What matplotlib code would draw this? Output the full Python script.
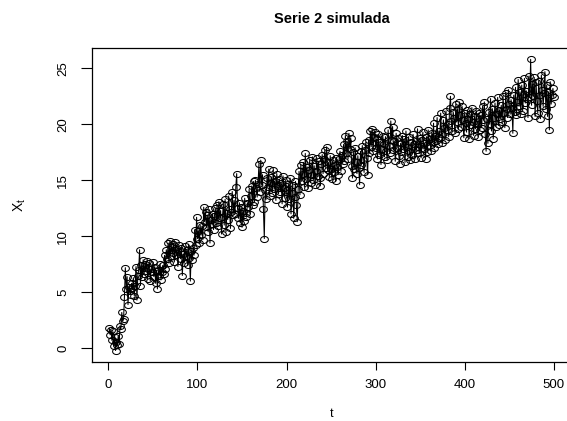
import numpy as np
import matplotlib
matplotlib.use("Agg")
import matplotlib.pyplot as plt
from matplotlib.path import Path

plt.rcParams['font.family'] = ['Liberation Sans', 'DejaVu Sans']

# serie simulada, 500 observaciones (t = 1..500)
x_t = [
    1.8, 1.2, 1.6, 0.7, 1.5, 0.2, 1.0, -0.2, 0.6, 0.3,
    1.1, 0.4, 2.0, 1.7, 3.2, 2.4, 2.6, 4.6, 7.2, 5.3,
    6.4, 3.9, 5.5, 5.1, 4.8, 5.8, 5.4, 6.3, 4.7, 5.6,
    7.3, 4.3, 6.5, 7.0, 8.8, 5.6, 7.4, 6.4, 7.9, 6.6,
    7.5, 6.9, 7.8, 6.2, 7.2, 7.6, 6.0, 7.1, 6.8, 7.7,
    6.4, 7.3, 5.8, 6.9, 5.3, 7.0, 6.5, 7.5, 6.1, 6.8,
    7.4, 6.6, 8.3, 7.1, 8.8, 8.0, 9.4, 7.6, 9.6, 8.2,
    9.1, 8.5, 9.3, 7.7, 9.5, 8.3, 8.9, 7.3, 9.2, 8.6,
    8.0, 9.0, 6.5, 8.4, 7.6, 9.1, 8.2, 8.8, 7.4, 9.3,
    8.1, 6.0, 8.7, 7.9, 9.0, 8.3, 10.6, 9.2, 11.7, 9.8,
    10.5, 9.4, 11.0, 10.1, 10.9, 9.7, 12.6, 11.3, 12.2, 10.8,
    11.9, 10.4, 12.4, 9.4, 11.5, 11.1, 12.0, 10.6, 11.8, 12.5,
    11.2, 12.8, 10.9, 13.1, 11.6, 12.3, 10.2, 11.7, 12.9, 11.0,
    13.3, 10.4, 12.1, 11.5, 13.6, 12.4, 10.7, 12.2, 14.0, 11.9,
    13.2, 12.0, 14.4, 15.6, 12.5, 11.6, 13.0, 11.2, 12.6, 10.8,
    12.3, 11.4, 13.4, 12.1, 11.7, 13.0, 12.6, 14.2, 12.0, 13.6,
    14.5, 12.8, 14.9, 13.1, 15.0, 14.3, 13.5, 14.7, 16.5, 14.0,
    16.8, 14.6, 15.5, 12.4, 9.8, 14.1, 13.3, 15.2, 14.4, 16.0,
    13.6, 14.8, 15.3, 13.9, 15.9, 14.2, 14.9, 13.2, 15.6, 14.5,
    13.8, 15.1, 14.0, 14.8, 12.9, 15.4, 14.3, 13.4, 15.0, 14.1,
    12.6, 14.7, 13.3, 15.2, 12.0, 13.9, 14.6, 11.6, 13.5, 14.9,
    12.8, 11.3, 14.2, 15.8, 13.7, 16.4, 14.9, 15.6, 16.6, 14.4,
    17.4, 15.1, 16.2, 14.3, 15.9, 16.8, 14.8, 15.5, 17.1, 15.0,
    16.3, 14.6, 15.8, 17.0, 15.4, 16.7, 15.2, 14.5, 16.5, 17.3,
    15.6, 16.9, 17.7, 16.1, 18.0, 15.9, 16.6, 15.3, 17.2, 16.0,
    15.1, 16.8, 15.7, 16.4, 14.9, 17.0, 16.2, 15.5, 16.9, 17.6,
    15.8, 17.3, 16.5, 18.2, 16.7, 19.0, 17.4, 18.5, 16.9, 19.2,
    17.8, 18.8, 16.3, 15.2, 17.5, 16.0, 17.9, 16.6, 15.6, 17.2,
    16.1, 14.6, 17.6, 16.4, 18.1, 16.8, 15.7, 17.7, 18.4, 17.0,
    15.5, 18.6, 17.4, 19.4, 18.0, 19.6, 17.6, 18.9, 19.3, 17.9,
    18.7, 16.9, 19.1, 17.3, 18.4, 16.4, 17.8, 19.0, 18.2, 17.1,
    18.9, 17.6, 16.8, 19.5, 18.1, 17.4, 20.3, 18.6, 19.8, 17.7,
    18.5, 16.7, 19.2, 17.9, 18.8, 17.2, 16.5, 18.3, 17.5, 19.0,
    17.8, 18.7, 16.6, 19.4, 18.0, 17.1, 18.9, 17.6, 16.8, 18.4,
    17.3, 19.1, 18.2, 16.9, 18.5, 17.7, 19.6, 18.0, 17.4, 18.8,
    17.0, 18.6, 19.3, 17.8, 18.3, 16.9, 18.9, 17.5, 19.5, 18.1,
    18.7, 17.6, 19.2, 18.4, 20.1, 17.9, 19.0, 18.5, 20.6, 18.2,
    19.4, 18.8, 21.0, 19.1, 18.3, 20.4, 19.7, 18.6, 21.2, 19.5,
    20.0, 18.9, 21.5, 22.5, 20.3, 19.4, 21.1, 20.6, 19.2, 21.8,
    20.2, 21.4, 19.6, 22.0, 20.8, 19.8, 21.6, 20.4, 18.8, 21.0,
    20.1, 19.3, 21.3, 20.5, 18.7, 20.9, 19.9, 21.5, 20.2, 19.0,
    20.7, 19.6, 21.2, 20.0, 18.9, 21.0, 19.5, 20.8, 19.7, 21.6,
    20.4, 22.0, 19.1, 17.6, 20.5, 18.3, 21.1, 20.0, 22.3, 19.4,
    21.4, 18.7, 20.6, 21.9, 19.8, 20.9, 22.4, 19.9, 21.3, 20.5,
    21.7, 20.2, 22.5, 21.0, 19.7, 22.8, 21.4, 20.6, 23.1, 21.8,
    20.9, 22.2, 21.5, 19.2, 22.6, 21.1, 23.3, 20.8, 22.0, 24.0,
    21.6, 22.9, 20.9, 23.5, 21.2, 22.7, 24.1, 21.9, 23.0, 22.3,
    20.6, 24.3, 22.4, 25.8, 21.7, 23.6, 22.5, 24.2, 20.7, 23.8,
    22.1, 21.0, 23.9, 22.6, 20.5, 24.4, 23.1, 21.6, 22.8, 24.7,
    21.4, 23.5, 20.7, 22.9, 19.5, 23.8, 21.8, 22.6, 23.2, 22.4,
]
t = np.arange(1, len(x_t) + 1)

x_ticks = [0, 100, 200, 300, 400, 500]
y_ticks = [0, 5, 10, 15, 20, 25]

# circulo algo achatado para los puntos
ang = np.linspace(0, 2 * np.pi, 40)
oval = Path(np.column_stack([np.cos(ang), 0.78 * np.sin(ang)]), closed=True)

fig = plt.figure(figsize=(5.67, 4.21), dpi=100)
ax = fig.add_axes([0.1614, 0.1397, 0.8467, 0.7470])

ax.plot(t, x_t, color='black', lw=0.75, marker=oval, markersize=5.6,
        markerfacecolor='none', markeredgecolor='black', markeredgewidth=0.75)

# rango extendido 4% como en R
xr = t.max() - t.min()
yr = max(x_t) - min(x_t)
ax.set_xlim(t.min() - 0.04 * xr, t.max() + 0.04 * xr)
ax.set_ylim(min(x_t) - 0.04 * yr, max(x_t) + 0.04 * yr)

ax.set_xticks(x_ticks)
ax.set_yticks(y_ticks)
ax.set_yticklabels([str(v) for v in y_ticks], rotation=90, va='center')
ax.tick_params(axis='both', direction='out', labelsize=9.5, width=0.8)
ax.tick_params(axis='x', length=6, pad=6)
ax.tick_params(axis='y', length=8, pad=8)
for s in ax.spines.values():
    s.set_linewidth(0.9)

ax.set_title('Serie 2 simulada', fontsize=10.5, fontweight='bold', pad=18)
ax.set_xlabel('t', fontsize=9, labelpad=12)
ax.set_ylabel(r'$\mathregular{X_t}$', fontsize=10, labelpad=21)

fig.savefig('out.png', dpi=100)
